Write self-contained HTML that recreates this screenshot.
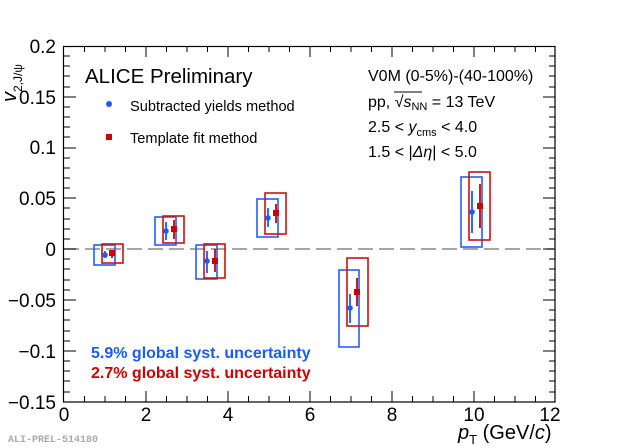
<!DOCTYPE html>
<html><head><style>
html,body{margin:0;padding:0;background:#fff;}
svg{display:block;font-family:"Liberation Sans",sans-serif;}
</style></head><body>
<svg width="620" height="448" viewBox="0 0 620 448" xmlns="http://www.w3.org/2000/svg">
<rect width="620" height="448" fill="#fff"/>
<rect x="63.5" y="46.5" width="491.5" height="355.5" fill="none" stroke="#000" stroke-width="1.2"/>
<line x1="64" y1="249" x2="554" y2="249" stroke="#888" stroke-width="1.5" stroke-dasharray="15,6"/>
<g font-size="19" fill="#000">
<text x="56" y="53" text-anchor="end">0.2</text>
<text x="56" y="104" text-anchor="end">0.15</text>
<text x="56" y="154" text-anchor="end">0.1</text>
<text x="56" y="205" text-anchor="end">0.05</text>
<text x="56" y="256" text-anchor="end">0</text>
<text x="56" y="307" text-anchor="end">−0.05</text>
<text x="56" y="358" text-anchor="end">−0.1</text>
<text x="56" y="409" text-anchor="end">−0.15</text>
<text x="64" y="421" text-anchor="middle">0</text>
<text x="146" y="421" text-anchor="middle">2</text>
<text x="228" y="421" text-anchor="middle">4</text>
<text x="310" y="421" text-anchor="middle">6</text>
<text x="392" y="421" text-anchor="middle">8</text>
<text x="474" y="421" text-anchor="middle">10</text>
<text x="550" y="421" text-anchor="middle">12</text>
</g>
<text x="458" y="439" font-size="20"><tspan font-style="italic">p</tspan><tspan font-size="13" dy="5">T</tspan><tspan dy="-5"> (GeV/</tspan><tspan font-style="italic">c</tspan>)</text>
<text transform="translate(16,102) rotate(-90)" font-size="20"><tspan font-style="italic">v</tspan><tspan font-size="12" dy="6">2,J/ψ</tspan></text>
<text x="8" y="442" font-size="10" fill="#aaa" font-family="Liberation Mono,monospace" font-weight="bold">ALI-PREL-514180</text>
<text x="85" y="83" font-size="20.5">ALICE Preliminary</text>
<circle cx="109" cy="104" r="3" fill="#1a5cff"/>
<text x="130" y="111" font-size="14.6">Subtracted yields method</text>
<rect x="106" y="134" width="6" height="6" fill="#cc0000"/>
<text x="130" y="143" font-size="14.6">Template fit method</text>
<g font-size="16">
<text x="368" y="81">V0M (0-5%)-(40-100%)</text>
<text x="368" y="107">pp, <tspan>√</tspan><tspan font-style="italic">s</tspan><tspan font-size="11" dy="3">NN</tspan><tspan dy="-3"> = 13 TeV</tspan></text>
<text x="368" y="132">2.5 &lt; <tspan font-style="italic">y</tspan><tspan font-size="11" dy="4">cms</tspan><tspan dy="-4"> &lt; 4.0</tspan></text>
<text x="368" y="157">1.5 &lt; |<tspan font-style="italic">Δη</tspan>| &lt; 5.0</text>
</g>
<line x1="394" y1="92" x2="422" y2="92" stroke="#000" stroke-width="1"/>
<text x="91" y="358" font-size="16" font-weight="bold" fill="#1a5cff">5.9% global syst. uncertainty</text>
<text x="91" y="378" font-size="16" font-weight="bold" fill="#cc0000">2.7% global syst. uncertainty</text>
<g fill="none" stroke-width="1.6">
<g stroke="#2a5cff">
<rect x="94" y="245" width="21" height="20"/>
<rect x="155" y="217" width="21" height="28"/>
<rect x="196" y="245" width="21" height="34"/>
<rect x="257" y="199" width="21" height="38"/>
<rect x="339" y="270" width="20" height="77"/>
<rect x="461" y="177" width="21" height="70"/>
</g>
<g stroke="#cc1111">
<rect x="102" y="244" width="21" height="19"/>
<rect x="163" y="216" width="21" height="27"/>
<rect x="204" y="244" width="21" height="34"/>
<rect x="265" y="193" width="21" height="41"/>
<rect x="347" y="258" width="21" height="68"/>
<rect x="469" y="172" width="21" height="68"/>
</g>
</g>
<g stroke-width="1.8">
<g stroke="#1a5cff">
<line x1="105" y1="251" x2="105" y2="258"/>
<line x1="166" y1="222" x2="166" y2="240"/>
<line x1="207" y1="251" x2="207" y2="273"/>
<line x1="268" y1="208" x2="268" y2="227"/>
<line x1="350" y1="294" x2="350" y2="323"/>
<line x1="472" y1="191" x2="472" y2="233"/>
</g>
<g stroke="#cc0000">
<line x1="112" y1="250" x2="112" y2="258"/>
<line x1="174" y1="220" x2="174" y2="239"/>
<line x1="215" y1="249" x2="215" y2="272"/>
<line x1="276" y1="204" x2="276" y2="223"/>
<line x1="357" y1="278" x2="357" y2="306"/>
<line x1="480" y1="184" x2="480" y2="228"/>
</g>
</g>
<g fill="#1a5cff">
<circle cx="105" cy="255" r="2.8"/><circle cx="166" cy="231" r="2.8"/><circle cx="207" cy="261" r="2.8"/>
<circle cx="268" cy="218" r="2.8"/><circle cx="350" cy="308" r="2.8"/><circle cx="472" cy="212" r="2.8"/>
</g>
<g fill="#cc0000">
<rect x="109" y="250" width="6" height="6"/><rect x="171" y="226" width="6" height="6"/><rect x="212" y="258" width="6" height="6"/>
<rect x="273" y="210" width="6" height="6"/><rect x="354" y="289" width="6" height="6"/><rect x="477" y="203" width="6" height="6"/>
</g>
<g stroke="#000" stroke-width="1">
<path d="
M146,402v-11 M228,402v-11 M310,402v-11 M392,402v-11 M474,402v-11
M84.5,402v-6 M105,402v-6 M125.5,402v-6 M166.5,402v-6 M187,402v-6 M207.5,402v-6 M248.5,402v-6 M269,402v-6 M289.5,402v-6 M330.5,402v-6 M351,402v-6 M371.5,402v-6 M412.5,402v-6 M433,402v-6 M453.5,402v-6 M494.5,402v-6 M515,402v-6 M535.5,402v-6
M146,46v11 M228,46v11 M310,46v11 M392,46v11 M474,46v11
M84.5,46v6 M105,46v6 M125.5,46v6 M166.5,46v6 M187,46v6 M207.5,46v6 M248.5,46v6 M269,46v6 M289.5,46v6 M330.5,46v6 M351,46v6 M371.5,46v6 M412.5,46v6 M433,46v6 M453.5,46v6 M494.5,46v6 M515,46v6 M535.5,46v6
"/>
</g>
<path stroke="#000" stroke-width="1" d="
M64,97h12 M64,148h12 M64,198h12 M64,249h12 M64,300h12 M64,351h12
M555,97h-12 M555,148h-12 M555,198h-12 M555,249h-12 M555,300h-12 M555,351h-12
M64,56h6 M64,66h6 M64,76h6 M64,87h6 M64,107h6 M64,117h6 M64,127h6 M64,137h6 M64,158h6 M64,168h6 M64,178h6 M64,188h6 M64,208h6 M64,219h6 M64,229h6 M64,239h6 M64,259h6 M64,269h6 M64,280h6 M64,290h6 M64,310h6 M64,320h6 M64,331h6 M64,341h6 M64,361h6 M64,371h6 M64,381h6 M64,392h6
M555,56h-6 M555,66h-6 M555,76h-6 M555,87h-6 M555,107h-6 M555,117h-6 M555,127h-6 M555,137h-6 M555,158h-6 M555,168h-6 M555,178h-6 M555,188h-6 M555,208h-6 M555,219h-6 M555,229h-6 M555,239h-6 M555,259h-6 M555,269h-6 M555,280h-6 M555,290h-6 M555,310h-6 M555,320h-6 M555,331h-6 M555,341h-6 M555,361h-6 M555,371h-6 M555,381h-6 M555,392h-6
"/>
</svg>
</body></html>
